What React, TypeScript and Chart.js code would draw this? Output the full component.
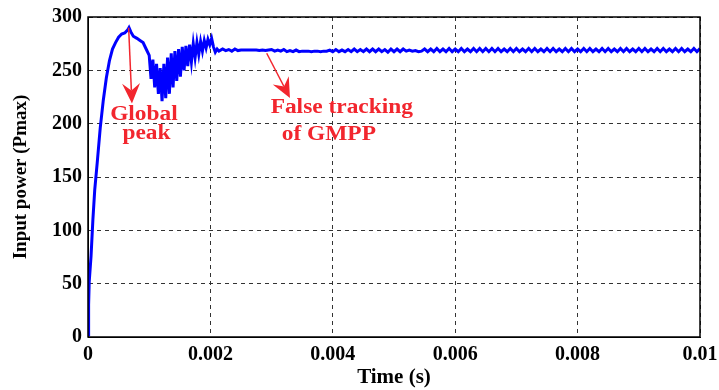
import React, { useEffect, useRef } from "react";
import { Chart, registerables } from "chart.js";

Chart.register(...registerables);

// ---- Data ----
const transientTime = [
  0, 0.00001, 0.00002, 0.00005, 0.00008, 0.00011, 0.00015, 0.0002, 0.00025, 0.0003,
  0.00035, 0.0004, 0.00045, 0.0005, 0.00055, 0.0006, 0.00065, 0.00067, 0.0007, 0.00074,
  0.0008, 0.00085, 0.0009, 0.00095,
  0.001, 0.00103, 0.00106, 0.00109, 0.00112, 0.00115, 0.00118, 0.00121, 0.00124, 0.00127,
  0.0013, 0.00133, 0.00136, 0.00139, 0.00142, 0.00145, 0.00148, 0.00151, 0.00154, 0.00157,
  0.0016, 0.00163, 0.00166, 0.00169, 0.00172, 0.00175, 0.00178, 0.00181, 0.00184, 0.00187,
  0.0019, 0.00193, 0.00196, 0.00199, 0.00202, 0.00205, 0.00208, 0.00211, 0.00214,
];
const transientPower = [
  2, 30, 52, 76, 110, 138, 163, 196, 222, 243,
  259, 270, 276, 281, 284, 285, 288, 290, 286, 282,
  280, 278, 276, 270,
  264, 242, 260, 234, 256, 228, 252, 221, 256, 224,
  262, 228, 266, 234, 268, 240, 270, 244, 272, 250,
  273, 254, 274, 258, 275, 262, 276, 265, 277, 268,
  278, 271, 279, 274, 280, 272, 267, 270, 268,
];

const steadyStart = 0.0022;
const steadyStep = 0.00005;
const steadyPower = [
  // 0.0022 - 0.00295
  270, 268.5, 269.5, 268, 270, 268.5, 269, 269, 269, 269, 269, 269, 268.5, 269, 268.5, 269,
  // 0.0030 - 0.00455
  269.5, 268, 269, 268, 269.5, 267.5, 268.5, 267.5, 269, 267.5, 268, 268, 268, 267.5, 268, 268,
  267.5, 268, 268, 269, 267.5, 269.5, 267.5, 269, 267.5, 269.5, 267.5, 270, 267.5, 269.5, 267.5, 270,
  // 0.0046 - 0.00635
  267.5, 270, 267.5, 270, 267.5, 269.5, 267, 270, 267.5, 270, 267.5, 270, 268, 269, 268, 268.5,
  267.5, 268, 270, 267.5, 270, 267.5, 270.5, 267.5, 270, 267.5, 270.5, 267.5, 270, 267.5, 270.5, 267.5,
  270, 267.5, 270.5, 267.5,
  // 0.0064 - 0.0100
  270.5, 267.5, 270.5, 267.5, 270.5, 267.5, 270.5, 267.5, 270, 267.5, 270.5, 267.5, 270.5, 267.5, 270, 267.5,
  270.5, 267.5, 270.5, 267.5, 270, 267.5, 270.5, 267.5, 270.5, 267.5, 270, 267.5, 270.5, 267.5, 270.5, 267.5,
  270, 267.5, 270.5, 267.5, 270.5, 267.5, 270, 267.5, 270.5, 267.5, 270.5, 267.5, 270, 267.5, 270.5, 267.5,
  270.5, 267.5, 270, 267.5, 270.5, 267.5, 270.5, 267.5, 270, 267.5, 270.5, 267.5, 270.5, 267.5, 270, 267.5,
  270.5, 267.5, 270.5, 267.5, 270, 267.5, 270.5, 267.5, 270.5,
];

const xTicks = [0, 0.002, 0.004, 0.006, 0.008, 0.01];
const yTicks = [0, 50, 100, 150, 200, 250, 300];

// Annotations (in data coordinates)
const annotationTexts = ["Global", "peak", "False tracking", "of GMPP"];
const annotationTimes = [0.000914, 0.000955, 0.004147, 0.003935];
const annotationValues = [203.5, 185.5, 210, 184.7];
const arrowFromTimes = [0.000664, 0.00292];
const arrowFromValues = [290, 266];
const arrowToTimes = [0.000718, 0.0033];
const arrowToValues = [219, 224];

const FONT = "'Liberation Serif', 'Times New Roman', serif";
const RED = "#f2262e";

const framePlugin = {
  id: "frame",
  afterDraw(chart: any) {
    const { ctx, chartArea } = chart;
    ctx.save();
    ctx.strokeStyle = "#000";
    ctx.lineWidth = 1.5;
    ctx.setLineDash([]);
    ctx.strokeRect(chartArea.left, chartArea.top, chartArea.right - chartArea.left, chartArea.bottom - chartArea.top);
    ctx.restore();
  },
};

const annotationPlugin = {
  id: "annots",
  afterDatasetsDraw(chart: any) {
    const { ctx } = chart;
    const xs = chart.scales.x;
    const ys = chart.scales.y;
    ctx.save();
    ctx.fillStyle = RED;
    ctx.strokeStyle = RED;
    ctx.font = `bold 20px ${FONT}`;
    ctx.textAlign = "center";
    ctx.textBaseline = "alphabetic";
    for (let i = 0; i < annotationTexts.length; i++) {
      const px = xs.getPixelForValue(annotationTimes[i]);
      const py = ys.getPixelForValue(annotationValues[i]);
      ctx.save();
      ctx.translate(px, py);
      ctx.scale(1.17, 1);
      ctx.fillText(annotationTexts[i], 0, 0);
      ctx.restore();
    }
    for (let i = 0; i < arrowFromTimes.length; i++) {
      const x1 = xs.getPixelForValue(arrowFromTimes[i]);
      const y1 = ys.getPixelForValue(arrowFromValues[i]);
      const x2 = xs.getPixelForValue(arrowToTimes[i]);
      const y2 = ys.getPixelForValue(arrowToValues[i]);
      const ang = Math.atan2(y2 - y1, x2 - x1);
      const headLen = 20;
      const headW = 9;
      const bx = x2 - headLen * Math.cos(ang);
      const by = y2 - headLen * Math.sin(ang);
      const nx = x2 - headLen * 0.65 * Math.cos(ang);
      const ny = y2 - headLen * 0.65 * Math.sin(ang);
      const px = -Math.sin(ang);
      const py = Math.cos(ang);
      ctx.lineWidth = 1.5;
      ctx.beginPath();
      ctx.moveTo(x1, y1);
      ctx.lineTo(nx, ny);
      ctx.stroke();
      ctx.beginPath();
      ctx.moveTo(x2, y2);
      ctx.lineTo(bx + px * headW, by + py * headW);
      ctx.lineTo(nx, ny);
      ctx.lineTo(bx - px * headW, by - py * headW);
      ctx.closePath();
      ctx.fill();
    }
    ctx.restore();
  },
};

export default function App() {
  const ref = useRef<HTMLCanvasElement | null>(null);

  useEffect(() => {
    document.body.style.margin = "0";
    const points: { x: number; y: number }[] = [];
    for (let i = 0; i < transientTime.length; i++) points.push({ x: transientTime[i], y: transientPower[i] });
    for (let i = 0; i < steadyPower.length; i++) points.push({ x: steadyStart + i * steadyStep, y: steadyPower[i] });

    const tickFont = { family: FONT, size: 20, weight: "bold" as const };
    const chart = new Chart(ref.current as HTMLCanvasElement, {
      type: "line",
      data: {
        datasets: [
          {
            data: points,
            borderColor: "#0000ff",
            borderWidth: 3,
            pointRadius: 0,
            tension: 0,
            fill: false,
          },
        ],
      },
      options: {
        responsive: false,
        animation: false,
        events: [],
        layout: { padding: { top: 17, right: 19, left: 0, bottom: 0 } },
        plugins: { legend: { display: false }, tooltip: { enabled: false } },
        scales: {
          x: {
            type: "linear",
            min: 0,
            max: 0.01,
            afterBuildTicks: (s: any) => {
              s.ticks = xTicks.map((v) => ({ value: v }));
            },
            afterFit: (s: any) => {
              s.height = 53;
              s.paddingRight = 0;
              s.paddingLeft = 0;
            },
            ticks: {
              color: "#000",
              font: tickFont,
              padding: 6,
              maxRotation: 0,
              callback: (v: any) => String(Number(Number(v).toFixed(4))),
            },
            grid: { color: "#333", lineWidth: 1, drawTicks: false },
            border: { display: true, color: "#000", dash: [4, 4] },
            title: {
              display: true,
              text: "Time (s)",
              color: "#000",
              font: { family: FONT, size: 21, weight: "bold" },
              padding: { top: 0, bottom: 0 },
            },
          },
          y: {
            type: "linear",
            min: 0,
            max: 300,
            afterBuildTicks: (s: any) => {
              s.ticks = yTicks.map((v) => ({ value: v }));
            },
            afterFit: (s: any) => {
              s.width = 88;
              s.paddingTop = 0;
              s.paddingBottom = 0;
            },
            ticks: { color: "#000", font: tickFont, padding: 6 },
            grid: { color: "#333", lineWidth: 1, drawTicks: false },
            border: { display: true, color: "#000", dash: [4, 4] },
            title: {
              display: true,
              text: "Input power (Pmax)",
              color: "#000",
              font: { family: FONT, size: 19, weight: "bold" },
              padding: { top: 10, bottom: 0 },
            },
          },
        },
      },
      plugins: [framePlugin, annotationPlugin],
    });
    return () => chart.destroy();
  }, []);

  return (
    <div style={{ width: 719, height: 390, background: "#fff" }}>
      <canvas ref={ref} width={719} height={390} style={{ display: "block" }} />
    </div>
  );
}
